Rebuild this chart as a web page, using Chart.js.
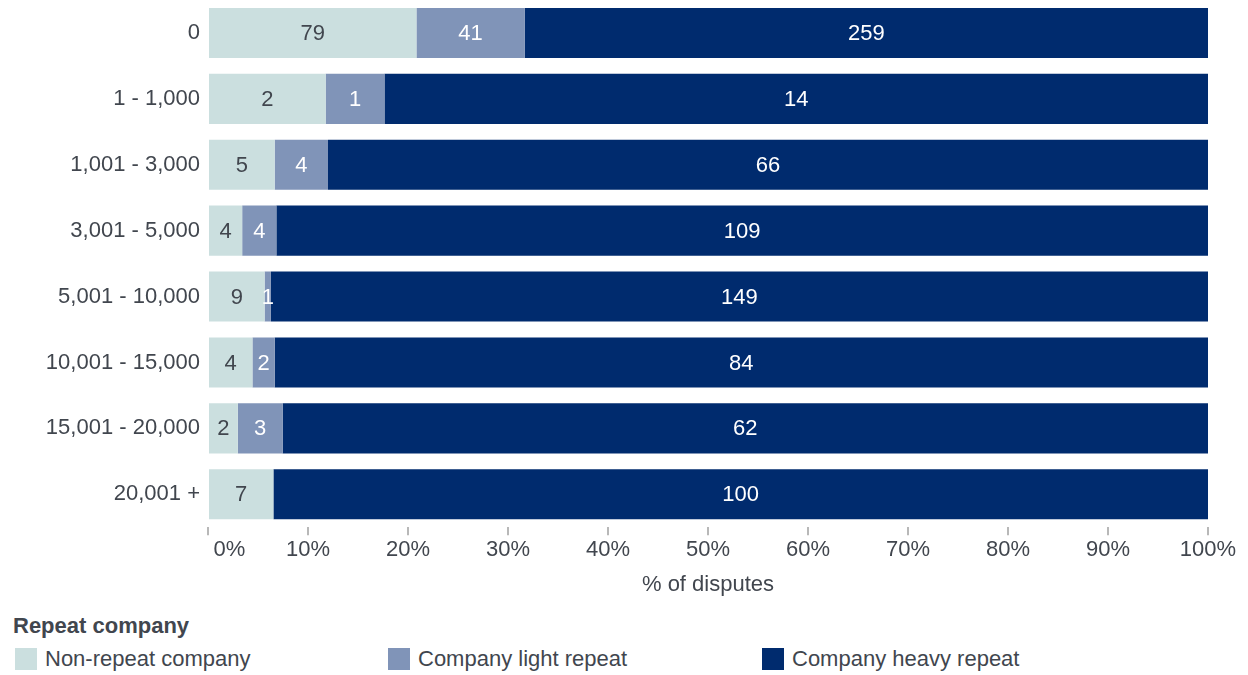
<!DOCTYPE html>
<html>
<head>
<meta charset="utf-8">
<script src="https://cdn.jsdelivr.net/npm/chart.js@4"></script>
<style>
  body { margin: 0; background: #fff; font-family: "Liberation Sans", Arial, sans-serif; color: #41464e; }
  #wrap { position: relative; width: 1248px; height: 675px; }
  #chartBox { position: absolute; left: 0; top: 0; width: 1248px; height: 600px; }
  #legend { position: absolute; left: 0; top: 612px; width: 1248px; }
  #legend .title { position: absolute; left: 13px; top: 1px; font-weight: bold; font-size: 22px; line-height: 25px; }
  #legend .item { position: absolute; top: 36px; font-size: 22px; line-height: 22px; display: flex; align-items: center; }
  #legend .swatch { width: 22px; height: 22px; margin-right: 8px; }
</style>
</head>
<body>
<div id="wrap">
  <div id="chartBox"><canvas id="repeatChart"></canvas></div>
  <div id="legend"><div class="title">Repeat company</div></div>
</div>
<script>
const categories = ['0', '1 - 1,000', '1,001 - 3,000', '3,001 - 5,000', '5,001 - 10,000', '10,001 - 15,000', '15,001 - 20,000', '20,001 +'];
const nonRepeat = [79, 2, 5, 4, 9, 4, 2, 7];
const lightRepeat = [41, 1, 4, 4, 1, 2, 3, 0];
const heavyRepeat = [259, 14, 66, 109, 149, 84, 62, 100];
const seriesNames = ['Non-repeat company', 'Company light repeat', 'Company heavy repeat'];
const xTicks = [0, 10, 20, 30, 40, 50, 60, 70, 80, 90, 100];

const colors = ['#cbdfdf', '#8094b8', '#002b6e'];
const labelColors = ['#41464e', '#ffffff', '#ffffff'];
const counts = [nonRepeat, lightRepeat, heavyRepeat];
const FONT = '"Liberation Sans", Arial, sans-serif';

const totals = categories.map((c, i) => nonRepeat[i] + lightRepeat[i] + heavyRepeat[i]);
const toPct = arr => arr.map((v, i) => v / totals[i] * 100);

// count labels in the middle of each segment
const segmentLabels = {
  id: 'segmentLabels',
  afterDatasetsDraw(chart) {
    const ctx = chart.ctx;
    ctx.save();
    ctx.font = '22px ' + FONT;
    ctx.textAlign = 'center';
    ctx.textBaseline = 'middle';
    chart.data.datasets.forEach((ds, di) => {
      chart.getDatasetMeta(di).data.forEach((bar, i) => {
        const n = counts[di][i];
        if (!n) return;
        const p = bar.getCenterPoint();
        ctx.fillStyle = labelColors[di];
        ctx.fillText(String(n), p.x, p.y + 1);
      });
    });
    ctx.restore();
  }
};

const chart = new Chart(document.getElementById('repeatChart'), {
  type: 'bar',
  data: {
    labels: categories,
    datasets: counts.map((arr, i) => ({
      label: seriesNames[i],
      data: toPct(arr),
      backgroundColor: colors[i],
      barPercentage: 0.76,
      categoryPercentage: 1
    }))
  },
  options: {
    indexAxis: 'y',
    responsive: true,
    maintainAspectRatio: false,
    animation: false,
    layout: { padding: { left: 0, right: 40, top: 0, bottom: 2 } },
    plugins: {
      legend: { display: false },
      tooltip: { enabled: false }
    },
    scales: {
      x: {
        stacked: true,
        min: 0,
        max: 100,
        afterBuildTicks: s => { s.ticks = xTicks.map(v => ({ value: v })); },
        ticks: {
          color: '#41464e',
          font: { size: 22, family: FONT },
          padding: 2,
          maxRotation: 0,
          callback: v => (v === 0 ? '       ' : '') + v + '%'
        },
        grid: { drawOnChartArea: false, drawTicks: true, tickLength: 8, color: '#b8b8b8', lineWidth: 2 },
        border: { display: false },
        title: {
          display: true,
          text: '% of disputes',
          color: '#41464e',
          font: { size: 22, family: FONT },
          padding: { top: 6, bottom: 0 }
        }
      },
      y: {
        stacked: true,
        afterFit: s => { s.width = 208; s.paddingTop = 0; s.paddingBottom = 0; },
        ticks: {
          color: '#41464e',
          font: { size: 22, family: FONT },
          padding: 8
        },
        grid: { display: false, drawTicks: false },
        border: { display: false }
      }
    }
  },
  plugins: [segmentLabels]
});

// legend built from the chart's datasets
const legendEl = document.getElementById('legend');
const legendX = [15, 388, 762];
chart.data.datasets.forEach((ds, i) => {
  const item = document.createElement('div');
  item.className = 'item';
  item.style.left = legendX[i] + 'px';
  item.innerHTML = '<span class="swatch" style="background:' + ds.backgroundColor + '"></span><span>' + ds.label + '</span>';
  legendEl.appendChild(item);
});
</script>
</body>
</html>
